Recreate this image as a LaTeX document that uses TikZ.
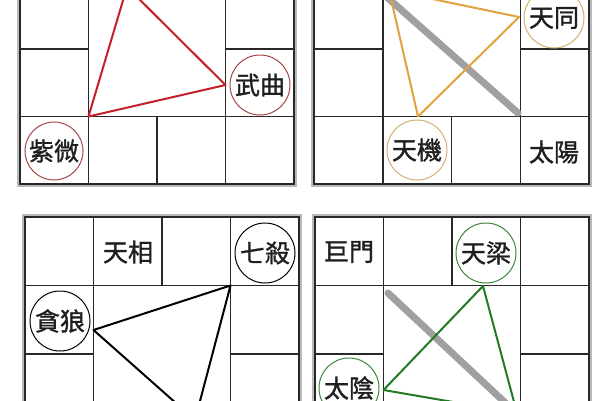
\documentclass[tikz,border=0pt]{standalone}
\usepackage{fontspec}
\newfontfamily\cjk{Noto Sans CJK TC}[FakeBold=1.3]
\definecolor{trired}{RGB}{196,32,42}
\definecolor{ringred}{RGB}{165,70,70}
\definecolor{triorange}{RGB}{226,162,62}
\definecolor{ringtan}{RGB}{212,176,110}
\definecolor{trigreen}{RGB}{36,122,36}
\definecolor{ringgreen}{RGB}{60,135,60}
\definecolor{axisgray}{RGB}{160,160,160}
\definecolor{inkgray}{RGB}{40,40,40}

% one palace chart: 4x4 cells, centre 2x2 left open
\newcommand{\palacegrid}[4]{%
  \begin{scope}[shift={(#1,#2)},x=#3pt,y=-#4pt]
    \draw[cellline] (1,0) -- (1,4) (3,0) -- (3,4) (0,1) -- (4,1) (0,3) -- (4,3);
    \draw[cellline] (2,0) -- (2,1) (2,3) -- (2,4) (0,2) -- (1,2) (3,2) -- (4,2);
    \draw[framegray] ([xshift=-1.9pt,yshift=1.9pt]0,0) rectangle ([xshift=1.9pt,yshift=-1.9pt]4,4);
    \draw[frameline] (0,0) rectangle (4,4);
  \end{scope}}

\begin{document}
\begin{tikzpicture}[x=1pt,y=-1pt,
    cellline/.style={inkgray,line width=1.5pt},
    frameline/.style={inkgray,line width=2.2pt},
    framegray/.style={gray!55,line width=2pt},
    starname/.style={font=\cjk\fontsize{25}{25}\selectfont,text=black!88,inner sep=0pt},
    starring/.style={starname,circle,draw,minimum size=60pt,line width=1pt},
    triline/.style={line width=2pt,line join=round},
    axisline/.style={axisgray,line width=7pt,line cap=round}]
	\useasboundingbox (0,0) rectangle (600,400);
	\clip (0,0) rectangle (600,400);
	\fill[white] (0,0) rectangle (600,400);

	% top left
	\palacegrid{20}{-86}{68.5}{67.5}
	\node at (54,151) [starring,draw=ringred,minimum size=58pt] (ziwei) {紫微};
	\node at (260,85) [starring,draw=ringred] (wuqu) {武曲};
	\coordinate (redtop) at (127,-13);
	\coordinate (redleft) at (88.5,116.5);
	\coordinate (redright) at (225.5,85);
	\draw[triline,trired] (redtop) -- (redleft) -- (redright) -- cycle;

	% top right
	\palacegrid{314}{-86}{68.75}{67.5}
	\draw[axisline] (372,-16) -- (518,113);
	\node at (554,18) [starring,draw=ringtan] (tiantong) {天同};
	\node at (417,150) [starring,draw=ringtan] (tianji) {天機};
	\node at (554,152) [starname] (taiyang) {太陽};
	\coordinate (orgtop) at (389,-10);
	\coordinate (orgleft) at (418,116.5);
	\coordinate (orgright) at (519,17);
	\draw[triline,triorange] (orgtop) -- (orgleft) -- (orgright) -- cycle;

	% bottom left
	\palacegrid{25}{217}{68.5}{68.5}
	\node at (128,252) [starname] (tianxiang) {天相};
	\node at (265,253) [starring] (qisha) {七殺};
	\node at (60,321) [starring] (tanlang) {貪狼};
	\coordinate (blkleft) at (93.5,330);
	\coordinate (blkright) at (230.5,285.5);
	\coordinate (blkbottom) at (195,420);
	\draw[triline,black] (blkleft) -- (blkright) -- (blkbottom) -- cycle;

	% bottom right
	\palacegrid{315}{217}{68.5}{68.5}
	\draw[axisline] (388,293) -- (545,440);
	\node at (349,252) [starname] (jumen) {巨門};
	\node at (486,253) [starring,draw=ringgreen] (tianliang) {天梁};
	\node at (349,388) [starring,draw=ringgreen] (taiyin) {太陰};
	\coordinate (grntop) at (483,286);
	\coordinate (grnleft) at (383.5,390);
	\coordinate (grnbottom) at (517,413);
	\draw[triline,trigreen] (grntop) -- (grnleft) -- (grnbottom) -- cycle;
\end{tikzpicture}
\end{document}
